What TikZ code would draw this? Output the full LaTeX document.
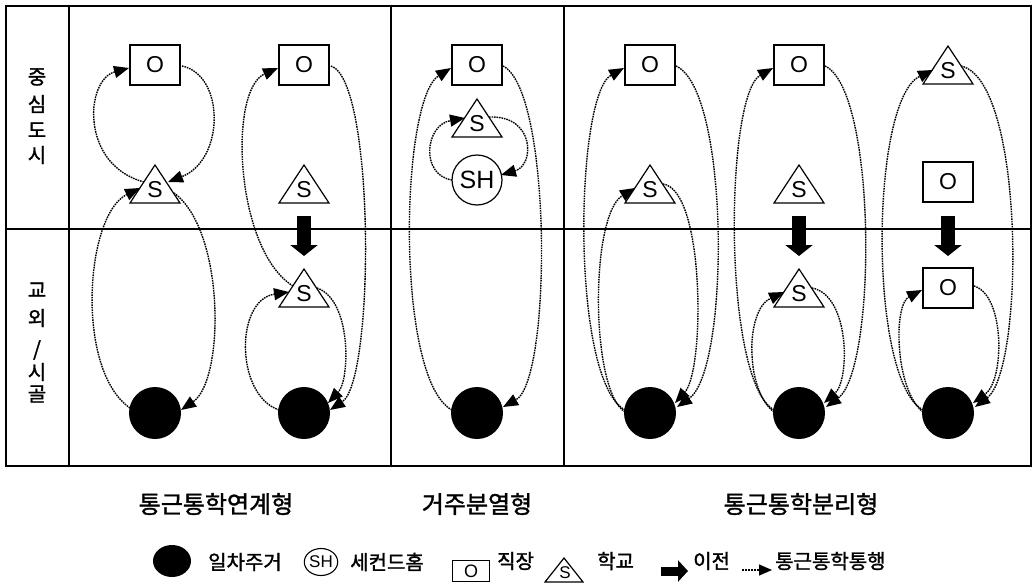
\documentclass[tikz,border=0pt]{standalone}
\usepackage{fontspec}
\setmainfont{Liberation Sans}
\newfontfamily\kr{Noto Sans CJK KR}[FakeBold=1.5]
\usetikzlibrary{arrows.meta,calc,shapes.geometric}
\begin{document}
\begin{tikzpicture}[x=1pt,y=-1pt,
  frame/.style={line width=1.6pt},
  gridline/.style={line width=1.4pt},
  box/.style={draw, rectangle, line width=1.2pt, minimum width=50pt, minimum height=40pt, inner sep=0pt, fill=white, font=\fontsize{23}{23}\selectfont},
  schl/.style={inner sep=0pt, font=\fontsize{23}{23}\selectfont},
  tri/.style={line width=1.2pt, line join=miter},
  shome/.style={draw, circle, line width=1.2pt, minimum size=50pt, inner sep=0pt, font=\fontsize{25}{25}\selectfont},
  home/.style={fill=black, circle, minimum size=52pt, inner sep=0pt},
  trip/.style={draw=black, line width=1.4pt, dash pattern=on 1.6pt off 0.9pt, -{Triangle[length=15pt,width=12pt]}},
  move/.style={line width=14pt, -{Triangle[length=11pt,width=27pt]}},
  side/.style={font=\kr\fontsize{20}{20}\selectfont, inner sep=0pt},
  title/.style={font=\kr\fontsize{24}{24}\selectfont, inner sep=0pt},
  lgtxt/.style={font=\kr\fontsize{20}{20}\selectfont, inner sep=0pt, anchor=west},
  lghome/.style={fill=black, ellipse, minimum width=38pt, minimum height=32pt, inner sep=0pt},
  lgsh/.style={draw, ellipse, line width=1.1pt, minimum width=33pt, minimum height=27pt, inner sep=0pt, font=\fontsize{17}{17}\selectfont},
  lgbox/.style={draw, rectangle, line width=1.2pt, minimum width=37pt, minimum height=21pt, inner sep=0pt, font=\fontsize{18}{18}\selectfont},
  lgschl/.style={inner sep=0pt, font=\fontsize{17}{17}\selectfont},
  lgmove/.style={line width=9pt, -{Triangle[length=10pt,width=21pt]}},
  lgtrip/.style={draw=black, line width=1.3pt, dash pattern=on 2pt off 1pt, -{Triangle[length=13pt,width=11pt]}}
]
\useasboundingbox (0,0) rectangle (1035,586);

% frame and grid
\draw[frame] (6,6) rectangle (1031,466);
\draw[gridline] (69,6) -- (69,466);
\draw[gridline] (391,6) -- (391,466);
\draw[gridline] (564,6) -- (564,466);
\draw[gridline] (6,229) -- (1031,229);

% side labels
\node[side] (l1) at (37,77) {중};
\node[side] (l2) at (37,104) {심};
\node[side] (l3) at (37,130) {도};
\node[side] (l4) at (37,155) {시};
\node[side] (m1) at (37,290) {교};
\node[side] (m2) at (37,318) {외};
\node[side] (m3) at (37,350) {/};
\node[side] (m4) at (37,372) {시};
\node[side] (m5) at (37,394) {골};

% column 1
\node[box] (o1) at (155,65) {O};
\node[schl] (s1) at (155,190) {S};
\node[home] (h1) at (155,413) {};
% column 2
\node[box] (o2) at (304,65) {O};
\node[schl] (s2up) at (304,190) {S};
\node[schl] (s2) at (304,294) {S};
\node[home] (h2) at (304,413) {};
% column 3
\node[box] (o3) at (477,65) {O};
\node[schl] (s3) at (477,124) {S};
\node[shome] (sh3) at (477,180) {SH};
\node[home] (h3) at (477,413) {};
% column 4
\node[box] (o4) at (650,65) {O};
\node[schl] (s4) at (650,190) {S};
\node[home] (h4) at (650,413) {};
% column 5
\node[box] (o5) at (799,65) {O};
\node[schl] (s5up) at (799,190) {S};
\node[schl] (s5) at (799,294) {S};
\node[home] (h5) at (799,413) {};
% column 6
\node[schl] (s6) at (948,71) {S};
\node[box] (o6up) at (948,182) {O};
\node[box] (o6) at (948,288) {O};
\node[home] (h6) at (948,413) {};

% triangles
\foreach \n in {s1,s2up,s2,s3,s4,s5up,s5,s6}
  \draw[tri] ($(\n)+(0,-25)$) -- ($(\n)+(25,13)$) -- ($(\n)+(-25,13)$) -- cycle;

% relocation arrows
\draw[move] ($(s2up)+(0,26)$) -- ($(s2)+(0,-38)$);
\draw[move] ($(s5up)+(0,26)$) -- ($(s5)+(0,-38)$);
\draw[move] ($(o6up)+(0,34)$) -- ($(o6)+(0,-32)$);

% column 1 trips
\draw[trip] ($(h1)+(-25,-5)$) .. controls (75,370) and (85,215) .. ($(s1)+(-15,-2)$);
\draw[trip] ($(s1)+(-11,-8)$) .. controls (80,165) and (85,80) .. ($(o1)+(-26,3)$);
\draw[trip] ($(o1)+(27,1)$) .. controls (225,75) and (225,160) .. ($(s1)+(13,-8)$);
\draw[trip] ($(s1)+(19,3)$) .. controls (225,230) and (225,380) .. ($(h1)+(26,-3)$);
% column 2 trips
\draw[trip] ($(h2)+(-25,-3)$) .. controls (235,395) and (235,300) .. ($(s2)+(-15,-2)$);
\draw[trip] ($(s2)+(-11,-8)$) .. controls (235,250) and (228,90) .. ($(o2)+(-26,3)$);
\draw[trip] ($(o2)+(27,1)$) .. controls (375,80) and (375,380) .. ($(h2)+(26,-3)$);
\draw[trip] ($(s2)+(13,-6)$) .. controls (352,300) and (350,380) .. ($(h2)+(24,-10)$);
% column 3 trips
\draw[trip] ($(h3)+(-25,-3)$) .. controls (395,380) and (400,100) .. ($(o3)+(-26,3)$);
\draw[trip] ($(o3)+(26,1)$) .. controls (552,90) and (552,380) .. ($(h3)+(26,-6)$);
\draw[trip] ($(sh3)+(-25,0)$) .. controls (420,175) and (425,125) .. ($(s3)+(-12,-6)$);
\draw[trip] ($(s3)+(12,-7)$) .. controls (535,115) and (535,165) .. ($(sh3)+(24,-5)$);
% column 4 trips
\draw[trip] ($(h4)+(-25,-3)$) .. controls (570,380) and (575,95) .. ($(o4)+(-26,3)$);
\draw[trip] ($(o4)+(26,1)$) .. controls (730,90) and (730,370) .. ($(h4)+(27,-6)$);
\draw[trip] ($(h4)+(-25,-1)$) .. controls (590,390) and (590,215) .. ($(s4)+(-15,-2)$);
\draw[trip] ($(s4)+(13,-6)$) .. controls (705,190) and (705,370) .. ($(h4)+(25,-10)$);
% column 5 trips
\draw[trip] ($(h5)+(-25,-3)$) .. controls (722,380) and (725,95) .. ($(o5)+(-26,3)$);
\draw[trip] ($(o5)+(26,1)$) .. controls (877,90) and (877,370) .. ($(h5)+(27,-6)$);
\draw[trip] ($(h5)+(-25,-1)$) .. controls (745,390) and (745,310) .. ($(s5)+(-15,-2)$);
\draw[trip] ($(s5)+(13,-6)$) .. controls (850,295) and (850,380) .. ($(h5)+(25,-10)$);
% column 6 trips
\draw[trip] ($(h6)+(-25,-3)$) .. controls (868,380) and (870,100) .. ($(s6)+(-15,-1)$);
\draw[trip] ($(s6)+(13,-5)$) .. controls (1025,80) and (1025,370) .. ($(h6)+(27,-6)$);
\draw[trip] ($(h6)+(-25,-1)$) .. controls (895,390) and (893,305) .. ($(o6)+(-26,2)$);
\draw[trip] ($(o6)+(26,-2)$) .. controls (1005,295) and (1005,380) .. ($(h6)+(25,-10)$);

% titles
\node[title] (t1) at (216,504) {통근통학연계형};
\node[title] (t2) at (477,504) {거주분열형};
\node[title] (t3) at (801,504) {통근통학분리형};

% legend
\node[lghome] (lh) at (172,561) {};
\node[lgtxt] (lt1) at (208,562) {일차주거};
\node[lgsh] (lsh) at (321,562) {SH};
\node[lgtxt] (lt2) at (350,562) {세컨드홈};
\node[lgbox] (lbox) at (471,571) {O};
\node[lgtxt] (lt3) at (497,561) {직장};
\node[lgschl] (ls) at (565,573) {S};
\draw[tri] ($(ls)+(-1,-15)$) -- ($(ls)+(18,9)$) -- ($(ls)+(-20,9)$) -- cycle;
\node[lgtxt] (lt4) at (597,561) {학교};
\coordinate (lma) at (661,571);
\coordinate (lmb) at (688,571);
\draw[lgmove] (lma) -- (lmb);
\node[lgtxt] (lt5) at (693,561) {이전};
\coordinate (lta) at (742,570);
\coordinate (ltb) at (772,570);
\draw[lgtrip] (lta) -- (ltb);
\node[lgtxt] (lt6) at (775,561) {통근통학통행};
\end{tikzpicture}
\end{document}
